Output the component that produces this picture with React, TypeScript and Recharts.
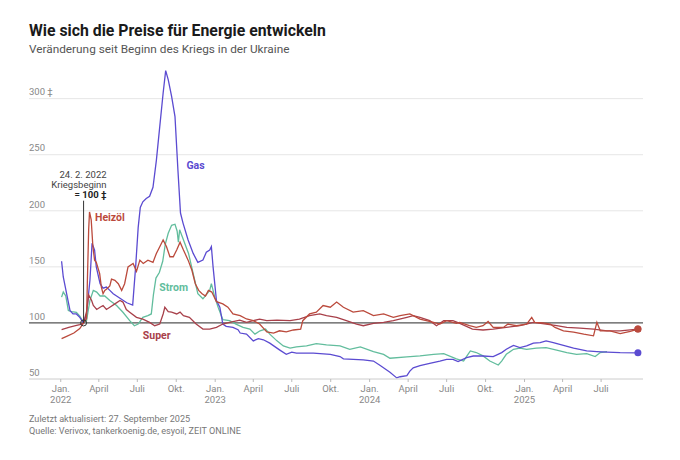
import { LineChart, Line, XAxis, YAxis, ReferenceLine, ReferenceDot } from 'recharts';

const FONT = 'Roboto, "Noto Sans", sans-serif';

// Index: 24.2.2022 = 100
const gasDates = ['2022-01-03', '2022-01-07', '2022-01-15', '2022-01-23', '2022-01-30', '2022-02-07', '2022-02-15', '2022-02-24', '2022-03-03', '2022-03-11', '2022-03-16', '2022-03-22', '2022-03-26', '2022-04-04', '2022-04-11', '2022-04-19', '2022-04-27', '2022-05-05', '2022-05-13', '2022-05-21', '2022-06-06', '2022-06-20', '2022-06-27', '2022-07-03', '2022-07-08', '2022-07-14', '2022-07-22', '2022-07-30', '2022-08-07', '2022-08-15', '2022-08-23', '2022-08-31', '2022-09-06', '2022-09-12', '2022-09-20', '2022-09-28', '2022-10-05', '2022-10-11', '2022-10-17', '2022-10-29', '2022-11-10', '2022-11-21', '2022-12-03', '2022-12-11', '2022-12-19', '2022-12-23', '2022-12-27', '2023-01-04', '2023-01-12', '2023-01-19', '2023-01-27', '2023-02-12', '2023-02-24', '2023-03-01', '2023-03-16', '2023-04-01', '2023-04-13', '2023-04-25', '2023-05-10', '2023-06-02', '2023-06-18', '2023-07-01', '2023-07-12', '2023-08-21', '2023-09-30', '2023-10-23', '2023-10-31', '2023-12-17', '2024-01-10', '2024-01-26', '2024-02-18', '2024-03-05', '2024-03-13', '2024-03-29', '2024-04-05', '2024-04-13', '2024-04-29', '2024-05-22', '2024-06-15', '2024-07-01', '2024-07-16', '2024-07-28', '2024-08-17', '2024-09-02', '2024-09-25', '2024-10-19', '2024-11-08', '2024-11-19', '2024-12-06', '2024-12-21', '2025-01-06', '2025-01-22', '2025-02-07', '2025-02-21', '2025-03-10', '2025-04-03', '2025-04-27', '2025-05-28', '2025-06-21', '2025-07-15', '2025-08-15', '2025-09-26'];
const gasValues = [155, 141, 126, 111, 108, 108, 105, 100, 108, 138, 171, 165, 150, 135, 131, 132, 129, 126, 124, 122, 118, 116, 150, 185, 203, 208, 211, 213, 221, 245, 275, 305, 325, 317, 302, 284, 236, 198, 189, 174, 162, 154, 156, 163, 165, 168, 150, 120, 114, 99, 97, 96, 94, 91, 90, 84, 86, 85, 82, 76, 72, 74, 73, 73, 72, 70, 68, 67, 66, 62, 56, 51, 52, 53, 57, 60, 62, 64, 66, 67.5, 67.5, 65.5, 69, 70.5, 70.5, 70, 73.5, 76.5, 80, 78, 79.5, 82, 82.5, 84, 82.5, 80, 77.5, 75, 74.5, 74, 73.5, 73.3];

const stromDates = ['2022-01-03', '2022-01-07', '2022-01-13', '2022-01-19', '2022-01-27', '2022-02-07', '2022-02-15', '2022-02-24', '2022-03-03', '2022-03-11', '2022-03-19', '2022-03-27', '2022-04-04', '2022-04-15', '2022-04-27', '2022-05-13', '2022-05-28', '2022-06-13', '2022-06-24', '2022-07-03', '2022-07-14', '2022-07-26', '2022-08-03', '2022-08-08', '2022-08-14', '2022-08-22', '2022-08-30', '2022-09-05', '2022-09-12', '2022-09-20', '2022-09-28', '2022-10-03', '2022-10-06', '2022-10-09', '2022-10-15', '2022-10-30', '2022-11-10', '2022-11-21', '2022-12-03', '2022-12-19', '2022-12-23', '2022-12-31', '2023-01-08', '2023-01-19', '2023-02-04', '2023-02-19', '2023-03-08', '2023-03-24', '2023-04-05', '2023-04-17', '2023-04-30', '2023-05-10', '2023-05-27', '2023-06-11', '2023-06-27', '2023-07-12', '2023-08-05', '2023-08-28', '2023-09-21', '2023-10-23', '2023-11-15', '2023-12-10', '2024-01-10', '2024-02-03', '2024-02-18', '2024-03-29', '2024-04-29', '2024-05-31', '2024-06-24', '2024-07-24', '2024-08-10', '2024-08-18', '2024-08-26', '2024-09-09', '2024-09-25', '2024-10-11', '2024-10-31', '2024-11-08', '2024-11-19', '2024-12-06', '2024-12-21', '2025-01-06', '2025-01-29', '2025-02-21', '2025-03-18', '2025-04-11', '2025-05-04', '2025-05-28', '2025-06-17', '2025-06-29', '2025-07-15'];
const stromValues = [123, 127.5, 124, 111, 110, 109.5, 106, 100, 102, 120, 129, 127.5, 124, 124, 120, 115.5, 109.5, 102, 97.5, 99, 105, 106.5, 108, 125, 140, 145, 155, 170, 180, 187, 188, 182, 172, 183, 177, 162, 144, 126, 121.5, 129, 135, 123, 114, 103, 102, 99, 96, 94.5, 90, 93, 94.5, 90, 84, 79.5, 77.5, 78.7, 79.5, 81.6, 80.5, 79.5, 76.5, 78.7, 74.5, 72, 68.5, 69.7, 70.6, 72, 72.6, 68, 66, 70.6, 75, 73.6, 70.6, 66, 62.5, 66, 72, 76.5, 77.5, 76.5, 77.5, 78, 75.7, 73.6, 72, 72.6, 70, 73.6, 74.5];

const heizoelDates = ['2022-01-03', '2022-01-15', '2022-02-01', '2022-02-15', '2022-02-24', '2022-03-03', '2022-03-05', '2022-03-08', '2022-03-10', '2022-03-14', '2022-03-18', '2022-03-22', '2022-03-26', '2022-04-03', '2022-04-07', '2022-04-11', '2022-04-15', '2022-04-19', '2022-04-27', '2022-05-01', '2022-05-09', '2022-05-17', '2022-05-25', '2022-06-01', '2022-06-09', '2022-06-21', '2022-06-29', '2022-07-07', '2022-07-15', '2022-07-26', '2022-08-07', '2022-08-15', '2022-08-23', '2022-08-31', '2022-09-08', '2022-09-16', '2022-09-24', '2022-10-02', '2022-10-10', '2022-10-18', '2022-10-29', '2022-11-07', '2022-11-15', '2022-11-23', '2022-12-01', '2022-12-09', '2022-12-16', '2022-12-24', '2023-01-04', '2023-01-19', '2023-01-31', '2023-02-12', '2023-03-01', '2023-03-16', '2023-04-01', '2023-04-16', '2023-05-03', '2023-05-19', '2023-06-02', '2023-06-18', '2023-07-05', '2023-07-22', '2023-07-27', '2023-08-12', '2023-08-28', '2023-09-13', '2023-09-30', '2023-10-15', '2023-10-31', '2023-11-23', '2023-12-17', '2024-01-10', '2024-02-03', '2024-02-26', '2024-03-13', '2024-04-05', '2024-04-29', '2024-05-31', '2024-06-15', '2024-07-01', '2024-07-24', '2024-08-01', '2024-08-24', '2024-09-09', '2024-09-25', '2024-10-07', '2024-10-19', '2024-11-12', '2024-11-23', '2024-12-13', '2025-01-06', '2025-01-18', '2025-01-25', '2025-02-14', '2025-03-03', '2025-03-14', '2025-04-03', '2025-04-27', '2025-05-21', '2025-06-13', '2025-06-21', '2025-06-29', '2025-07-22', '2025-08-15', '2025-09-08', '2025-09-26'];
const heizoelValues = [86, 88, 91, 95, 100, 104, 138, 183, 199, 192, 168, 156, 154, 144, 132, 126, 129, 130, 133, 139, 138, 135, 129, 135, 150, 153, 146, 156, 153, 156, 154, 162, 168, 174, 168, 159, 159, 165, 172, 165, 156, 147, 135, 129, 126, 124, 129, 127.5, 119, 117, 114, 108, 106.5, 103.5, 102, 99, 92, 91, 93, 92, 93.7, 94.5, 102, 108, 109.6, 115.5, 114, 118.6, 114, 109.6, 111, 106.5, 108, 105, 106.5, 108, 103.4, 100.5, 99, 102, 99.6, 100.5, 97.5, 96, 97.5, 101.3, 96, 96, 99, 97.5, 99, 105, 100.5, 100, 99, 96, 93, 91.8, 90, 88.5, 100.5, 93, 93, 90.5, 92.5, 94.5];

const superDates = ['2022-01-03', '2022-01-20', '2022-02-05', '2022-02-15', '2022-02-24', '2022-03-03', '2022-03-08', '2022-03-15', '2022-03-19', '2022-03-27', '2022-04-04', '2022-04-11', '2022-04-19', '2022-04-27', '2022-05-09', '2022-05-21', '2022-05-28', '2022-06-05', '2022-06-13', '2022-06-29', '2022-07-14', '2022-07-30', '2022-08-11', '2022-08-23', '2022-08-31', '2022-09-04', '2022-09-12', '2022-09-20', '2022-10-02', '2022-10-10', '2022-10-18', '2022-11-01', '2022-11-17', '2022-12-03', '2022-12-19', '2023-01-04', '2023-01-19', '2023-02-04', '2023-02-28', '2023-03-16', '2023-04-01', '2023-04-16', '2023-05-03', '2023-05-27', '2023-06-27', '2023-07-19', '2023-08-12', '2023-09-05', '2023-09-21', '2023-10-15', '2023-11-07', '2023-12-01', '2023-12-17', '2024-01-10', '2024-02-03', '2024-02-26', '2024-03-29', '2024-04-13', '2024-04-29', '2024-05-22', '2024-06-07', '2024-06-24', '2024-07-16', '2024-08-01', '2024-08-31', '2024-09-25', '2024-10-19', '2024-11-19', '2024-12-21', '2025-01-22', '2025-02-21', '2025-03-18', '2025-04-11', '2025-05-12', '2025-06-13', '2025-07-15', '2025-08-15', '2025-09-26'];
const superValues = [94, 96, 97.5, 98.5, 100, 110, 125, 120, 115.5, 112, 114, 115.5, 112, 114, 117, 120, 118.6, 112, 109.6, 105, 103.4, 100.5, 97.5, 99, 108, 114, 110, 109.6, 108, 109.6, 106.5, 105, 99, 94.5, 94.5, 96, 99, 100.5, 102.5, 100.5, 102, 103.4, 102, 102.5, 102, 103.4, 106.5, 108, 106.5, 105, 102, 99, 97.5, 99.6, 100.5, 102, 105, 106.5, 105, 102, 97.5, 102, 102, 99.6, 94.5, 93.7, 94.5, 96, 97.5, 100.5, 99, 97.5, 96, 95.4, 94.5, 93, 93, 94.5];

const xTickDates = ['2022-01-01', '2022-04-01', '2022-07-01', '2022-10-01', '2023-01-01', '2023-04-01', '2023-07-01', '2023-10-01', '2024-01-01', '2024-04-01', '2024-07-01', '2024-10-01', '2025-01-01', '2025-04-01', '2025-07-01'];
const xTickMonths = ['Jan.', 'April', 'Juli', 'Okt.', 'Jan.', 'April', 'Juli', 'Okt.', 'Jan.', 'April', 'Juli', 'Okt.', 'Jan.', 'April', 'Juli'];
const xTickYears = ['2022', '', '', '', '2023', '', '', '', '2024', '', '', '', '2025', '', ''];
const yTicks = [50, 100, 150, 200, 250, 300];
const yTickLabels = ['50', '100', '150', '200', '250', '300 \u2021'];

const warStart = '2022-02-24';

const BASE = Date.UTC(2022, 0, 1);
const toDay = (s: string) => (Date.parse(s) - BASE) / 86400000;
const toSeries = (dates: string[], values: number[]) => dates.map((d, i) => ({ d: toDay(d), v: values[i] }));

const gas = toSeries(gasDates, gasValues);
const strom = toSeries(stromDates, stromValues);
const heizoel = toSeries(heizoelDates, heizoelValues);
const superE = toSeries(superDates, superValues);
const xTickDays = xTickDates.map(toDay);

const GAS = '#5b4bd1';
const STROM = '#62bd9d';
const HEIZOEL = '#bb4a3c';
const SUPER = '#a8404a';

const labels = [
    { text: 'Gas', date: '2022-10-25', value: 240, color: GAS },
    { text: 'Heizöl', date: '2022-03-23', value: 194, color: HEIZOEL },
    { text: 'Strom', date: '2022-08-22', value: 132, color: STROM },
    { text: 'Super', date: '2022-07-14', value: 89, color: SUPER },
];

function XTick({ x, y, payload }: any) {
    const i = xTickDays.indexOf(payload.value);
    return (
        <text x={x} y={y} textAnchor="middle" fontSize={9.5} fill="#888" fontFamily={FONT}>
            <tspan x={x} dy={8}>{xTickMonths[i]}</tspan>
            {xTickYears[i] && <tspan x={x} dy={11}>{xTickYears[i]}</tspan>}
        </text>
    );
}

export default function App() {
    const last = (s: { d: number; v: number }[]) => s[s.length - 1];
    return (
        <div style={{ position: 'absolute', left: 0, top: 0, width: 680, height: 460, background: '#fff', fontFamily: FONT }}>
            <div style={{ position: 'absolute', left: 29, top: 21, fontSize: 15.8, lineHeight: '19px', fontWeight: 700, color: '#1a1a1a', whiteSpace: 'nowrap' }}>
                Wie sich die Preise für Energie entwickeln
            </div>
            <div style={{ position: 'absolute', left: 29, top: 41, fontSize: 11.8, lineHeight: '16px', color: '#555', whiteSpace: 'nowrap' }}>
                Veränderung seit Beginn des Kriegs in der Ukraine
            </div>

            <div style={{ position: 'absolute', left: 0, top: 0 }}>
                <LineChart width={680} height={460} margin={{ top: 65, right: 37, bottom: 41, left: 28 }}>
                    <XAxis
                        dataKey="d"
                        type="number"
                        domain={[toDay('2021-10-18'), toDay('2025-10-08')]}
                        ticks={xTickDays}
                        interval={0}
                        tickSize={3}
                        tickLine={{ stroke: '#bbb' }}
                        axisLine={{ stroke: '#ccc' }}
                        height={40}
                        tick={<XTick />}
                        allowDataOverflow
                    />
                    <YAxis
                        type="number"
                        domain={[50, 330]}
                        ticks={yTicks}
                        interval={0}
                        width={1}
                        axisLine={false}
                        tickLine={false}
                        tick={false}
                        allowDataOverflow
                    />
                    {yTicks.map((t, i) => (
                        <ReferenceLine
                            key={t}
                            y={t}
                            stroke={t === 50 || t === 100 ? 'none' : '#e6e6e6'}
                            label={{ value: yTickLabels[i], position: 'insideTopLeft', offset: 0, dy: -10, fontSize: 9.5, fill: '#888', fontFamily: FONT }}
                        />
                    ))}
                    <ReferenceLine y={100} stroke="#555" strokeWidth={1.3} />
                    <Line data={strom} dataKey="v" stroke={STROM} strokeWidth={1.3} dot={false} isAnimationActive={false} />
                    <Line data={gas} dataKey="v" stroke={GAS} strokeWidth={1.3} dot={false} isAnimationActive={false} />
                    <Line data={superE} dataKey="v" stroke={SUPER} strokeWidth={1.3} dot={false} isAnimationActive={false} />
                    <Line data={heizoel} dataKey="v" stroke={HEIZOEL} strokeWidth={1.3} dot={false} isAnimationActive={false} />

                    <ReferenceLine
                        segment={[{ x: toDay(warStart), y: 100 }, { x: toDay(warStart), y: 209 }]}
                        stroke="#333"
                        strokeWidth={1}
                    />
                    <ReferenceDot x={toDay(warStart)} y={100} r={3} fill="none" stroke="#333" strokeWidth={1} />
                    <ReferenceDot
                        x={toDay(warStart)}
                        y={209}
                        r={0}
                        shape={(p: any) => (
                            <text textAnchor="end" fontSize={9.5} fill="#444" fontFamily={FONT}>
                                <tspan x={p.cx + 23} y={p.cy - 22.5}>24. 2. 2022</tspan>
                                <tspan x={p.cx + 23} y={p.cy - 12.5}>Kriegsbeginn</tspan>
                                <tspan x={p.cx + 23} y={p.cy - 3} fontWeight={700} fill="#222">= 100 {'\u2021'}</tspan>
                            </text>
                        )}
                    />

                    {labels.map((l) => (
                        <ReferenceDot
                            key={l.text}
                            x={toDay(l.date)}
                            y={l.value}
                            r={0}
                            shape={(p: any) => (
                                <text x={p.cx} y={p.cy} dy={3.5} fontSize={10.5} fontWeight={700} fill={l.color} fontFamily={FONT}>
                                    {l.text}
                                </text>
                            )}
                        />
                    ))}

                    <ReferenceDot x={last(gas).d} y={last(gas).v} r={3.5} fill={GAS} stroke="none" />
                    <ReferenceDot x={last(superE).d} y={last(superE).v} r={3.5} fill={SUPER} stroke="none" />
                    <ReferenceDot x={last(heizoel).d} y={last(heizoel).v} r={3.5} fill={HEIZOEL} stroke="none" />
                </LineChart>
            </div>

            <div style={{ position: 'absolute', left: 29, top: 413, fontSize: 9.1, lineHeight: '12px', color: '#777', whiteSpace: 'nowrap' }}>
                Zuletzt aktualisiert: 27. September 2025
            </div>
            <div style={{ position: 'absolute', left: 29, top: 425, fontSize: 9.1, lineHeight: '12px', color: '#777', whiteSpace: 'nowrap' }}>
                Quelle: Verivox, tankerkoenig.de, esyoil, ZEIT ONLINE
            </div>
        </div>
    );
}
